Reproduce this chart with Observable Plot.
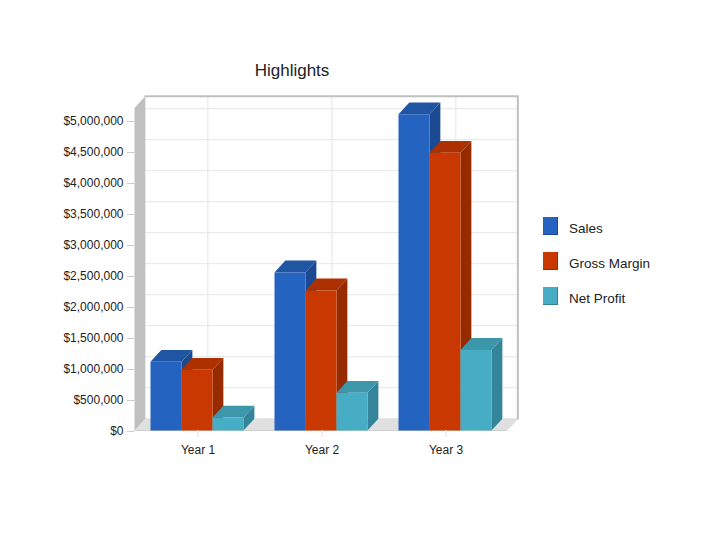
<!DOCTYPE html>
<html>
<head>
<meta charset="utf-8">
<script src="https://cdn.jsdelivr.net/npm/d3@7"></script>
<script src="https://cdn.jsdelivr.net/npm/@observablehq/plot@0.6"></script>
<style>
html,body{margin:0;padding:0;background:#fff;}
#wrap{position:relative;width:720px;height:540px;overflow:hidden;font-family:"Liberation Sans",Arial,sans-serif;color:#222;}
#title{position:absolute;left:192px;width:200px;top:60px;text-align:center;font-size:17px;line-height:22px;}
#legend{position:absolute;left:543px;top:217px;font-size:13.5px;}
.row{display:flex;align-items:center;height:18px;margin-bottom:17px;}
.row span{position:relative;top:2px;left:-1px;}
.sw{width:15px;height:18px;margin-right:12px;box-sizing:border-box;border-right:1px solid rgba(0,0,0,.25);border-bottom:1px solid rgba(0,0,0,.25);}
svg{position:absolute;left:0;top:0;}
</style>
</head>
<body>
<div id="wrap"><div id="title">Highlights</div><div id="legend"></div></div>
<script>
const years = ["Year 1", "Year 2", "Year 3"];
const seriesNames = ["Sales", "Gross Margin", "Net Profit"];
const sales = [1110000, 2550000, 5100000];
const grossMargin = [980000, 2260000, 4480000];
const netProfit = [210000, 610000, 1300000];
const yTicks = [0, 500000, 1000000, 1500000, 2000000, 2500000, 3000000, 3500000, 4000000, 4500000, 5000000];
const frontColors = ["#2563c0", "#c93800", "#47adc4"];
const topColors = ["#1f55a3", "#ad3000", "#3d97ab"];
const sideColors = ["#1b4a92", "#962b00", "#34859a"];

const seriesValues = [sales, grossMargin, netProfit];
const dx = 0.35, dy = 190000;       // depth of the 3D extrusion, in scale units
const xLeft = -0.516, xRight = 11.5, yTop = 5200000;

const faces = [];
const poly = (id, fill, pts) => pts.forEach(([x, y]) => faces.push({id, fill, x, y}));
years.forEach((yr, g) => {
  seriesNames.forEach((name, s) => {
    const x0 = g * 4 + s, x1 = x0 + 1, v = seriesValues[s][g], id = yr + name;
    poly(id + "side", sideColors[s], [[x1, 0], [x1 + dx, dy], [x1 + dx, v + dy], [x1, v]]);
    poly(id + "top", topColors[s], [[x0, v], [x1, v], [x1 + dx, v + dy], [x0 + dx, v + dy]]);
    poly(id + "front", frontColors[s], [[x0, 0], [x1, 0], [x1, v], [x0, v]]);
  });
});

const wall = [[xLeft, 0], [xLeft + dx, dy], [xLeft + dx, yTop + dy], [xLeft, yTop]].map(([x, y]) => ({x, y}));
const floor = [[xLeft, 0], [xRight, 0], [xRight + dx, dy], [xLeft + dx, dy]].map(([x, y]) => ({x, y}));
const frame = [[xLeft + dx, yTop + dy], [xRight + dx, yTop + dy], [xRight + dx, dy]].map(([x, y]) => ({x, y}));
const centers = years.map((_, g) => g * 4 + 1);

const chart = Plot.plot({
  width: 720,
  height: 540,
  marginLeft: 134,
  marginBottom: 110,
  marginTop: 0,
  marginRight: 0,
  style: {fontFamily: "'Liberation Sans', Arial, sans-serif", fontSize: "12px", color: "#222", background: "transparent"},
  x: {domain: [0, 1], range: [150, 181]},
  y: {domain: [0, 5000000], range: [430, 120]},
  color: {type: "identity"},
  marks: [
    Plot.line(floor, {x: "x", y: "y", fill: "#e0e0e0", stroke: "#d0d0d0", strokeWidth: 0.5}),
    Plot.ruleY(yTicks.slice(1), {y: d => d + dy, x1: xLeft + dx, x2: xRight + dx, stroke: "#e6e6e6", strokeWidth: 1}),
    Plot.ruleX(centers, {x: d => d + 0.5 + dx, y1: dy, y2: yTop + dy, stroke: "#e6e6e6", strokeWidth: 1}),
    Plot.line(frame, {x: "x", y: "y", stroke: "#c0c0c0", strokeWidth: 2, fill: "none"}),
    Plot.line(wall, {x: "x", y: "y", fill: "#c0c0c0", stroke: "none"}),
    Plot.ruleY([0], {x1: xLeft, x2: xRight, stroke: "#cfcfcf"}),
    Plot.line(faces, {x: "x", y: "y", z: "id", fill: "fill", stroke: "none"}),
    Plot.axisY({ticks: yTicks, tickFormat: d => "$" + d3.format(",")(d), tickSize: 7, tickPadding: 4, stroke: "#cccccc", color: "#222", label: null, fontSize: 12, dy: 1}),
    Plot.axisX({ticks: centers.map(d => d + 0.5), tickFormat: (d, i) => years[i], tickSize: 7, tickPadding: 8, stroke: "#dddddd", color: "#222", label: null, fontSize: 12, dx: 1})
  ]
});
document.getElementById("wrap").prepend(chart);

const legend = document.getElementById("legend");
seriesNames.forEach((name, i) => {
  const row = document.createElement("div");
  row.className = "row";
  const sw = document.createElement("div");
  sw.className = "sw";
  sw.style.background = frontColors[i];
  const lab = document.createElement("span");
  lab.textContent = name;
  row.append(sw, lab);
  legend.append(row);
});
</script>
</body>
</html>
